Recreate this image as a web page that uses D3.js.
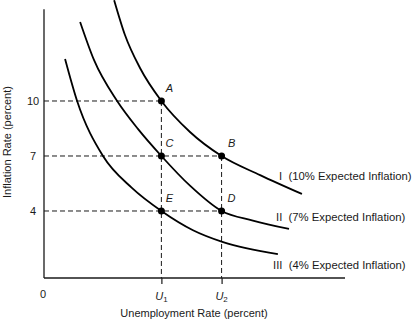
<!DOCTYPE html>
<html>
<head>
<meta charset="utf-8">
<script src="https://cdn.jsdelivr.net/npm/d3@7"></script>
<style>
  html, body { margin: 0; padding: 0; background: #fff; }
  svg { display: block; font-family: "Liberation Sans", Arial, sans-serif; }
</style>
</head>
<body>
<svg id="chart" width="416" height="322"></svg>
<script>
// Short-run Phillips curves for three levels of expected inflation
const curveNames = ["I", "II", "III"];
const curveLabels = ["(10% Expected Inflation)", "(7% Expected Inflation)", "(4% Expected Inflation)"];

// unemployment (schematic units) along each curve
const unempI   = [2.33, 2.69, 3.19, 3.9, 4.85, 5.9, 7.18, 8.57];
const inflI    = [15.5, 13.6, 11.8, 10, 8.31, 7, 5.96, 4.93];
const unempII  = [1.2, 1.66, 2.43, 3.12, 3.9, 4.85, 5.9, 6.94, 8.14];
const inflII   = [14.31, 12.24, 10, 8.48, 7, 5.38, 4, 3.48, 3.02];
const unempIII = [0.7, 1.1, 1.96, 2.92, 3.9, 4.95, 5.95, 7.77];
const inflIII  = [12.29, 10, 7, 5.26, 4, 2.95, 2.3, 1.65];

// labelled points on the curves
const pointNames = ["A", "B", "C", "D", "E"];
const pointUnemp = [3.9, 5.9, 3.9, 5.9, 3.9];
const pointInfl  = [10, 7, 7, 4, 4];

// axis ticks
const inflTicks = [4, 7, 10];
const unempTicks = [3.9, 5.9];
const unempTickNames = ["1", "2"];

const svg = d3.select("#chart");
const x = d3.scaleLinear().domain([0, 10]).range([44, 345]);
const y = d3.scaleLinear().domain([0, 15]).range([284.33, 9.33]);
const axisY = 278;   // pixel row of the horizontal axis
const ink = "#1a1a1a";

// dashed guides: horizontal from the vertical axis to each point
const guides = svg.append("g").attr("stroke", ink).attr("stroke-width", 1)
  .attr("stroke-dasharray", "5,3").attr("fill", "none");
[[10, 3.9], [7, 5.9], [4, 5.9]].forEach(([v, u]) => {
  guides.append("line").attr("x1", x(0)).attr("x2", x(u)).attr("y1", y(v)).attr("y2", y(v));
});
// vertical guides down to the horizontal axis
[[3.9, 10], [5.9, 7]].forEach(([u, v]) => {
  guides.append("line").attr("x1", x(u)).attr("x2", x(u)).attr("y1", y(v)).attr("y2", axisY);
});

// axes lines
svg.append("line").attr("x1", x(0)).attr("x2", x(0)).attr("y1", y(15)).attr("y2", axisY)
  .attr("stroke", ink).attr("stroke-width", 1.3);
svg.append("line").attr("x1", x(0)).attr("x2", x(10)).attr("y1", axisY).attr("y2", axisY)
  .attr("stroke", ink).attr("stroke-width", 1.3);

// vertical axis tick labels
const yAxis = d3.axisLeft(y).tickValues(inflTicks).tickSize(0).tickPadding(0).tickFormat(d3.format("d"));
const gy = svg.append("g").attr("transform", `translate(${x(0)},0)`).call(yAxis);
gy.select(".domain").remove();
gy.selectAll("text").attr("text-anchor", "middle").attr("x", -11)
  .attr("font-size", 11).attr("font-family", "Liberation Sans, Arial, sans-serif").attr("fill", ink);

// horizontal axis ticks at U1 and U2
const xAxis = d3.axisBottom(x).tickValues(unempTicks).tickSize(6).tickFormat("");
const gx = svg.append("g").attr("transform", `translate(0,${axisY})`).call(xAxis);
gx.select(".domain").remove();
gx.selectAll("line").attr("stroke", ink).attr("stroke-width", 1.2);

// U labels with subscripts
unempTicks.forEach((u, i) => {
  const t = svg.append("text").attr("x", x(u)).attr("y", 300).attr("text-anchor", "middle")
    .attr("font-size", 11).attr("fill", ink);
  t.append("tspan").attr("font-style", "italic").text("U");
  t.append("tspan").attr("font-size", 8).attr("dy", 2).text(unempTickNames[i]);
});
svg.append("text").attr("x", x(0) - 1).attr("y", 298).attr("text-anchor", "middle")
  .attr("font-size", 11).attr("fill", ink).text("0");

// axis titles
svg.append("text").attr("x", 194).attr("y", 317).attr("text-anchor", "middle")
  .attr("font-size", 11).attr("fill", ink).text("Unemployment Rate (percent)");
svg.append("text").attr("transform", "translate(11,142) rotate(-90)").attr("text-anchor", "middle")
  .attr("font-size", 11).attr("fill", ink).text("Inflation Rate (percent)");

// curves
const line = d3.line().x(d => x(d[0])).y(d => y(d[1])).curve(d3.curveMonotoneX);
const series = [[unempI, inflI], [unempII, inflII], [unempIII, inflIII]];
series.forEach(([us, vs]) => {
  svg.append("path").datum(us.map((u, i) => [u, vs[i]]))
    .attr("d", line).attr("fill", "none").attr("stroke", "#000").attr("stroke-width", 1.8);
});

// curve labels placed past each curve's end
const labelPos = [[279, 180], [276, 221], [273, 269]];
curveNames.forEach((n, i) => {
  svg.append("text").attr("x", labelPos[i][0]).attr("y", labelPos[i][1])
    .attr("font-size", 11.3).attr("fill", ink).attr("xml:space", "preserve")
    .text(n + "  " + curveLabels[i]);
});

// points and their letters
pointNames.forEach((n, i) => {
  const cx = x(pointUnemp[i]), cy = y(pointInfl[i]);
  svg.append("circle").attr("cx", cx).attr("cy", cy).attr("r", 3.5).attr("fill", "#000");
  svg.append("text").attr("x", cx + (i % 2 ? 10 : 8)).attr("y", cy - 9)
    .attr("text-anchor", "middle").attr("font-size", 11).attr("font-style", "italic")
    .attr("fill", ink).text(n);
});
</script>
</body>
</html>
